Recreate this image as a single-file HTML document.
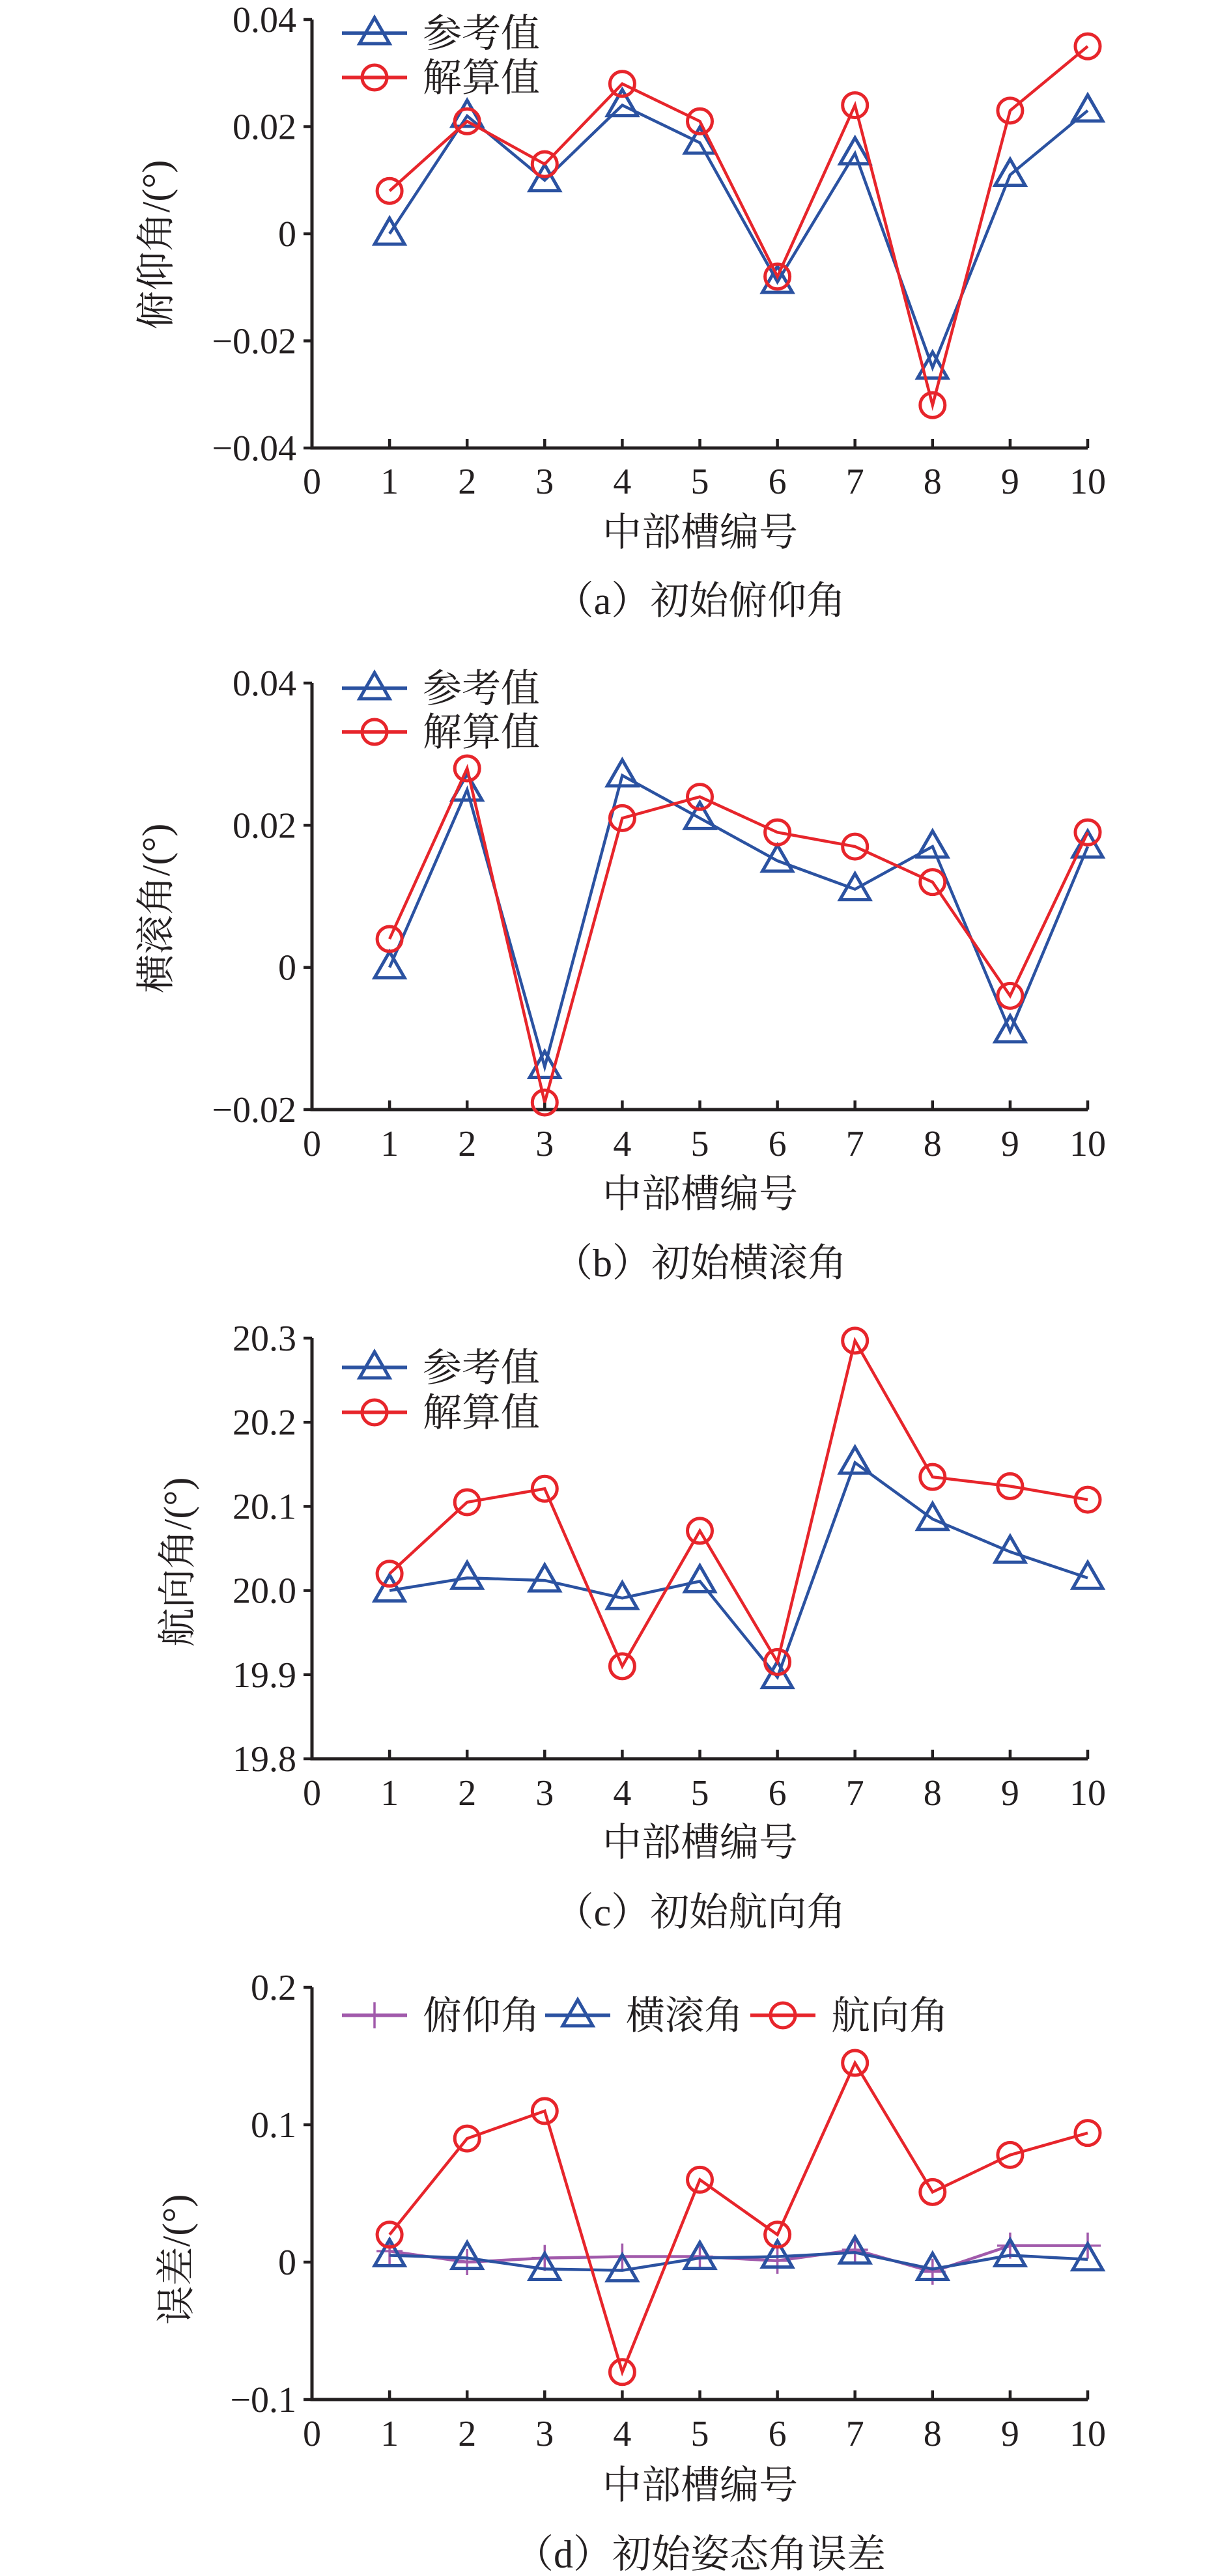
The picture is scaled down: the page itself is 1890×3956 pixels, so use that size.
<!DOCTYPE html>
<html><head><meta charset="utf-8"><style>
html,body{margin:0;padding:0;background:#fff;}
svg{display:block;}
text{font-family:"Liberation Serif","Noto Serif CJK SC",serif;fill:#231f20;}
.cj{font-family:"Liberation Serif","Noto Serif CJK SC","Noto Sans CJK SC",serif;}
</style></head><body>
<svg id="s" width="1890" height="3956" xmlns="http://www.w3.org/2000/svg"></svg>
<script>
var S=document.getElementById('s');var h='';
var X0=479,UX=119.1;
var BL='#2b52a1',RD='#e7252b',PU='#a15aab';
function tri(x,y,c){var w=23,t=y-24,b=y+16;return '<polygon points="'+(x-w)+','+b+' '+(x+w)+','+b+' '+x+','+t+'" fill="none" stroke="'+c+'" stroke-width="5"/>';}
function cir(x,y,c){return '<circle cx="'+x+'" cy="'+y+'" r="19" fill="none" stroke="'+c+'" stroke-width="5"/>';}
function plus(x,y,c){return '<path d="M'+(x-20)+' '+y+'H'+(x+20)+'M'+x+' '+(y-20)+'V'+(y+20)+'" stroke="'+c+'" stroke-width="3.5"/>';}
function panel(p){
 var top=p.top,bot=p.bot;
 function Y(v){return top+(p.ymax-v)/(p.ymax-p.ymin)*(bot-top);}
 h+='<path d="M'+X0+' '+top+'V'+bot+'H1670" fill="none" stroke="#231f20" stroke-width="5"/>';
 for(var i=0;i<p.ticks.length;i++){var v=p.ticks[i][0],y=Y(v);
  h+='<path d="M'+(X0-13)+' '+y+'H'+X0+'" stroke="#231f20" stroke-width="4.5"/>';
  h+='<text x="455" y="'+(y+19)+'" font-size="56" text-anchor="end">'+p.ticks[i][1]+'</text>';}
 for(var k=0;k<=10;k++){var x=X0+k*UX;
  if(k>0)h+='<path d="M'+x+' '+bot+'V'+(bot-14)+'" stroke="#231f20" stroke-width="4.5"/>';
  h+='<text x="'+x+'" y="'+p.xl+'" font-size="56" text-anchor="middle">'+k+'</text>';}
 h+='<text class="cj" x="1075" y="'+(p.xt+21)+'" font-size="60" text-anchor="middle">中部槽编号</text>';
 h+='<text class="cj" x="1075" y="'+(p.cap+21)+'" font-size="60" text-anchor="middle">'+p.capt+'</text>';
 h+='<text class="cj" transform="translate('+(p.ylx+20)+','+p.yly+') rotate(-90)" font-size="60" text-anchor="middle">'+p.ylab+'</text>';
 for(var s=0;s<p.series.length;s++){var se=p.series[s];var pts=[];
  for(var k=0;k<10;k++)pts.push((X0+(k+1)*UX)+','+Y(se.d[k]));
  h+='<polyline points="'+pts.join(' ')+'" fill="none" stroke="'+se.c+'" stroke-width="4.5"/>';
  for(var k=0;k<10;k++){var x=X0+(k+1)*UX,y=Y(se.d[k]);h+=se.m(x,y,se.c);}
  var L=se.leg;h+='<path d="M'+L[0]+' '+L[1]+'H'+(L[0]+100)+'" stroke="'+se.c+'" stroke-width="5.5"/>';
  h+=se.m(L[0]+50,L[1],se.c);
  h+='<text class="cj" x="'+(L[0]+124)+'" y="'+(L[1]+21)+'" font-size="60">'+se.name+'</text>';}
}
panel({top:30,bot:688,ymax:0.04,ymin:-0.04,ticks:[[0.04,'0.04'],[0.02,'0.02'],[0,'0'],[-0.02,'−0.02'],[-0.04,'−0.04']],
 xl:758,xt:817,cap:922,capt:'（a）初始俯仰角',ylab:'俯仰角/(°)',ylx:240,yly:376,
 series:[{c:BL,m:tri,name:'参考值',leg:[525,51],d:[0,0.022,0.010,0.024,0.017,-0.009,0.015,-0.025,0.011,0.023]},
 {c:RD,m:cir,name:'解算值',leg:[525,119],d:[0.008,0.021,0.013,0.028,0.021,-0.008,0.024,-0.032,0.023,0.035]}]});
panel({top:1049,bot:1704,ymax:0.04,ymin:-0.02,ticks:[[0.04,'0.04'],[0.02,'0.02'],[0,'0'],[-0.02,'−0.02']],
 xl:1775,xt:1833,cap:1939,capt:'（b）初始横滚角',ylab:'横滚角/(°)',ylx:240,yly:1395,
 series:[{c:BL,m:tri,name:'参考值',leg:[525,1057],d:[0,0.025,-0.014,0.027,0.021,0.015,0.011,0.017,-0.009,0.017]},
 {c:RD,m:cir,name:'解算值',leg:[525,1124],d:[0.004,0.028,-0.019,0.021,0.024,0.019,0.017,0.012,-0.004,0.019]}]});
panel({top:2055,bot:2701,ymax:20.3,ymin:19.8,ticks:[[20.3,'20.3'],[20.2,'20.2'],[20.1,'20.1'],[20.0,'20.0'],[19.9,'19.9'],[19.8,'19.8']],
 xl:2772,xt:2829,cap:2936,capt:'（c）初始航向角',ylab:'航向角/(°)',ylx:273,yly:2399,
 series:[{c:BL,m:tri,name:'参考值',leg:[525,2100],d:[20.0,20.015,20.012,19.991,20.011,19.897,20.152,20.085,20.046,20.015]},
 {c:RD,m:cir,name:'解算值',leg:[525,2169],d:[20.02,20.105,20.121,19.91,20.071,19.915,20.297,20.135,20.124,20.108]}]});
panel({top:3052,bot:3685,ymax:0.2,ymin:-0.1,ticks:[[0.2,'0.2'],[0.1,'0.1'],[0,'0'],[-0.1,'−0.1']],
 xl:3756,xt:3816,cap:3922,capt:'（d）初始姿态角误差',ylab:'误差/(°)',ylx:271,yly:3470,
 series:[{c:PU,m:plus,name:'俯仰角',leg:[525,3095],d:[0.008,0,0.003,0.004,0.004,0.001,0.009,-0.007,0.012,0.012]},
 {c:BL,m:tri,name:'横滚角',leg:[837,3095],d:[0.005,0.003,-0.005,-0.006,0.003,0.004,0.007,-0.005,0.005,0.002]},
 {c:RD,m:cir,name:'航向角',leg:[1152,3095],d:[0.02,0.09,0.11,-0.08,0.06,0.02,0.145,0.051,0.078,0.094]}]});
S.innerHTML=h;
</script>
</body></html>
